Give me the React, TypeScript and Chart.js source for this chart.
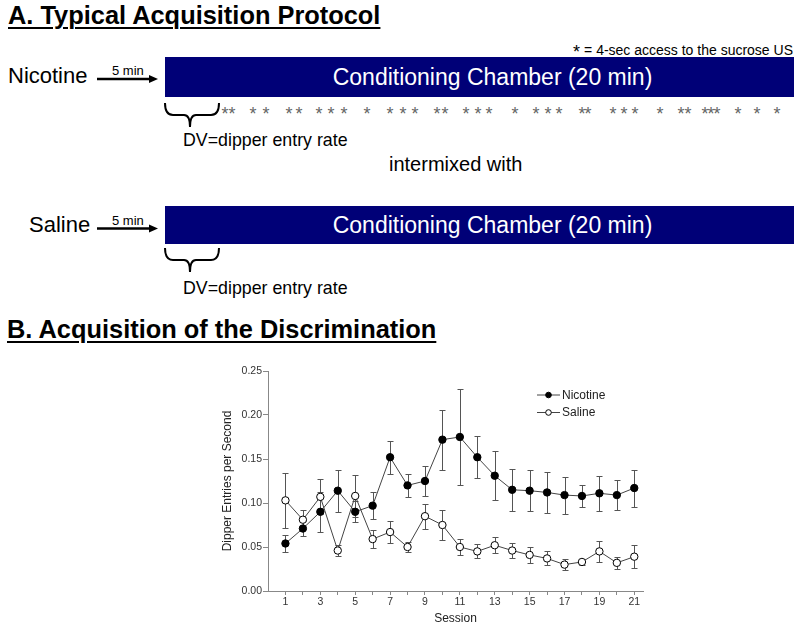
import React, { useEffect, useRef } from 'react';
import { Chart, registerables } from 'chart.js';

Chart.register(...registerables);

// ---------- data ----------
const sessions = [1, 2, 3, 4, 5, 6, 7, 8, 9, 10, 11, 12, 13, 14, 15, 16, 17, 18, 19, 20, 21];
const nicotineMean = [0.054, 0.071, 0.090, 0.114, 0.090, 0.097, 0.152, 0.120, 0.125, 0.172, 0.175, 0.152, 0.131, 0.115, 0.114, 0.112, 0.109, 0.108, 0.111, 0.109, 0.117];
const nicotineSem = [0.010, 0.009, 0.023, 0.024, 0.012, 0.015, 0.019, 0.013, 0.017, 0.034, 0.055, 0.024, 0.028, 0.024, 0.023, 0.023, 0.021, 0.013, 0.020, 0.017, 0.021];
const salineMean = [0.103, 0.081, 0.107, 0.046, 0.108, 0.059, 0.067, 0.050, 0.085, 0.075, 0.050, 0.045, 0.052, 0.046, 0.041, 0.037, 0.030, 0.033, 0.045, 0.032, 0.039];
const salineSem = [0.031, 0.011, 0.020, 0.006, 0.024, 0.010, 0.012, 0.006, 0.014, 0.017, 0.009, 0.008, 0.009, 0.008, 0.009, 0.008, 0.006, 0.003, 0.012, 0.007, 0.013];
const xTickLabels = [1, 3, 5, 7, 9, 11, 13, 15, 17, 19, 21];
const yTickValues = [0, 0.05, 0.1, 0.15, 0.2, 0.25];
const seriesNames = ['Nicotine', 'Saline'];
const yAxisTitle = 'Dipper Entries per Second';
const xAxisTitle = 'Session';

const FONT = "'Liberation Sans', Arial, Helvetica, sans-serif";
const semBySeries = [nicotineSem, salineSem];

// star (US delivery) marks on the nicotine timeline, x centres in px
const starXs = [225, 232, 253, 266, 289, 299, 319, 331, 344, 367, 390, 403, 415, 437, 445, 466, 478, 489, 515, 536, 548, 559, 582, 588, 613, 624, 635, 660, 681, 688, 705, 711, 717, 738, 757, 777];

const errorBarPlugin = {
  id: 'errorBars',
  beforeDatasetsDraw(chart: any) {
    const { ctx, scales } = chart;
    const x = scales.x;
    const y = scales.y;
    ctx.save();
    ctx.strokeStyle = '#555';
    ctx.lineWidth = 1;
    chart.data.datasets.forEach((ds: any, i: number) => {
      const sem = semBySeries[i];
      ds.data.forEach((pt: any, j: number) => {
        const px = Math.round(x.getPixelForValue(pt.x)) + 0.5;
        const hi = Math.round(y.getPixelForValue(pt.y + sem[j])) + 0.5;
        const lo = Math.round(y.getPixelForValue(pt.y - sem[j])) + 0.5;
        ctx.beginPath();
        ctx.moveTo(px, hi);
        ctx.lineTo(px, lo);
        ctx.moveTo(px - 3, hi);
        ctx.lineTo(px + 3, hi);
        ctx.moveTo(px - 3, lo);
        ctx.lineTo(px + 3, lo);
        ctx.stroke();
      });
    });
    ctx.restore();
  },
};

const decorPlugin = {
  id: 'decor',
  afterDraw(chart: any) {
    const { ctx, chartArea } = chart;
    ctx.save();
    // axis titles
    ctx.fillStyle = '#222';
    ctx.font = `12px ${FONT}`;
    ctx.textAlign = 'center';
    ctx.textBaseline = 'alphabetic';
    ctx.fillText(xAxisTitle, (chartArea.left + chartArea.right) / 2, chartArea.bottom + 31);
    ctx.save();
    ctx.translate(chartArea.left - 41, (chartArea.top + chartArea.bottom) / 2);
    ctx.rotate(-Math.PI / 2);
    ctx.fillText(yAxisTitle, 0, 4);
    ctx.restore();

    // legend
    const lx = chartArea.left + 269;
    const rows = [chartArea.top + 24, chartArea.top + 41.5];
    chart.data.datasets.forEach((ds: any, i: number) => {
      const ly = rows[i];
      ctx.strokeStyle = '#444';
      ctx.lineWidth = 1;
      ctx.beginPath();
      ctx.moveTo(lx, ly);
      ctx.lineTo(lx + 23, ly);
      ctx.stroke();
      ctx.beginPath();
      ctx.arc(lx + 11.5, ly, 2.8, 0, Math.PI * 2);
      ctx.fillStyle = ds.pointBackgroundColor;
      ctx.fill();
      ctx.strokeStyle = '#000';
      ctx.stroke();
      ctx.fillStyle = '#222';
      ctx.font = `12px ${FONT}`;
      ctx.textAlign = 'left';
      ctx.textBaseline = 'middle';
      ctx.fillText(seriesNames[i], lx + 25, ly + 0.5);
    });
    ctx.restore();
  },
};

function ChartPanel() {
  const ref = useRef<HTMLCanvasElement | null>(null);
  useEffect(() => {
    if (!ref.current) return;
    const mk = (vals: number[]) => sessions.map((s, i) => ({ x: s, y: vals[i] }));
    const chart = new Chart(ref.current, {
      type: 'line',
      data: {
        datasets: [
          {
            label: seriesNames[0],
            data: mk(nicotineMean),
            borderColor: '#444',
            borderWidth: 1,
            pointRadius: 3.7,
            pointBackgroundColor: '#000',
            pointBorderColor: '#000',
            pointBorderWidth: 1,
            tension: 0,
          },
          {
            label: seriesNames[1],
            data: mk(salineMean),
            borderColor: '#444',
            borderWidth: 1,
            pointRadius: 3.7,
            pointBackgroundColor: '#fff',
            pointBorderColor: '#000',
            pointBorderWidth: 1,
            tension: 0,
          },
        ],
      },
      options: {
        responsive: false,
        animation: false,
        events: [],
        layout: { padding: { left: 200, right: 157, top: 16, bottom: 0 } },
        plugins: { legend: { display: false }, tooltip: { enabled: false }, title: { display: false } },
        scales: {
          x: {
            type: 'linear',
            min: 0,
            max: 21.5,
            afterBuildTicks: (scale: any) => {
              scale.ticks = sessions.map((v) => ({ value: v }));
            },
            afterFit: (scale: any) => {
              scale.height = 38;
            },
            ticks: {
              autoSkip: false,
              maxRotation: 0,
              padding: 1,
              color: '#333',
              font: { family: FONT, size: 10.5 },
              callback: (v: any) => (xTickLabels.includes(Number(v)) ? String(v) : ''),
            },
            grid: { drawOnChartArea: false, drawTicks: true, tickLength: 4, color: '#888' },
            border: { color: '#888', width: 1 },
          },
          y: {
            type: 'linear',
            min: 0,
            max: 0.25,
            afterBuildTicks: (scale: any) => {
              scale.ticks = yTickValues.map((v) => ({ value: v }));
            },
            afterFit: (scale: any) => {
              scale.width = 68;
            },
            ticks: {
              padding: 1,
              color: '#333',
              font: { family: FONT, size: 10.5 },
              callback: (v: any) => Number(v).toFixed(2),
            },
            grid: { drawOnChartArea: false, drawTicks: true, tickLength: 5, color: '#888' },
            border: { color: '#888', width: 1 },
          },
        },
      },
      plugins: [errorBarPlugin, decorPlugin],
    } as any);
    return () => chart.destroy();
  }, []);
  return (
    <canvas
      ref={ref}
      width={800}
      height={274}
      style={{ position: 'absolute', left: 0, top: 355, width: 800, height: 274 }}
    />
  );
}

// place text by baseline (line-height 1)
function T(props: {
  x: number;
  base: number;
  size: number;
  text: string;
  bold?: boolean;
  color?: string;
  underline?: boolean;
  align?: 'left' | 'center' | 'right';
}) {
  const { x, base, size, text, bold, color, underline, align } = props;
  const top = base - 0.8465 * size;
  const style: React.CSSProperties = {
    position: 'absolute',
    top,
    fontFamily: FONT,
    fontSize: size,
    lineHeight: `${size}px`,
    fontWeight: bold ? 700 : 400,
    color: color || '#000',
    whiteSpace: 'pre',
    textDecoration: underline ? 'underline' : 'none',
    textDecorationThickness: underline ? 2 : undefined,
    textUnderlineOffset: underline ? 3 : undefined,
  };
  if (align === 'right') {
    style.right = 800 - x;
  } else if (align === 'center') {
    style.left = x;
    style.transform = 'translateX(-50%)';
  } else {
    style.left = x;
  }
  return <div style={style}>{text}</div>;
}

function Arrow({ y }: { y: number }) {
  return (
    <svg style={{ position: 'absolute', left: 0, top: 0 }} width={800} height={629}>
      <line x1={97} y1={y} x2={151} y2={y} stroke="#000" strokeWidth={2.5} />
      <polygon points={`${158},${y} ${149},${y - 4} ${149},${y + 4}`} fill="#000" />
    </svg>
  );
}

function Brace({ top }: { top: number }) {
  const l = 165;
  const r = 219;
  const tip = 190;
  const mid = top + 12;
  const bot = top + 24;
  const d = `M${l},${top} Q${l},${mid} ${l + 8},${mid} L${tip - 6},${mid} Q${tip},${mid} ${tip},${bot} Q${tip},${mid} ${tip + 6},${mid} L${r - 8},${mid} Q${r},${mid} ${r},${top}`;
  return (
    <svg style={{ position: 'absolute', left: 0, top: 0 }} width={800} height={629}>
      <path d={d} stroke="#000" strokeWidth={2} fill="none" />
    </svg>
  );
}

function Bar({ top, height }: { top: number; height: number }) {
  return (
    <div
      style={{
        position: 'absolute',
        left: 165,
        top,
        width: 629,
        height,
        background: '#000077',
        color: '#fff',
        fontFamily: FONT,
        fontSize: 23,
        display: 'flex',
        alignItems: 'center',
        justifyContent: 'center',
        paddingLeft: 26,
        boxSizing: 'border-box',
      }}
    >
      Conditioning Chamber (20 min)
    </div>
  );
}

export default function App() {
  return (
    <div style={{ position: 'absolute', left: 0, top: 0, width: 800, height: 629, background: '#fff', overflow: 'hidden' }}>
      <T x={8} base={25} size={25.4} bold underline text="A. Typical Acquisition Protocol" />
      <T x={793} base={55} size={14} align="right" text="= 4-sec access to the sucrose US" />
      <T x={573} base={58} size={18} text="*" />

      <T x={8} base={84} size={22} text="Nicotine" />
      <Arrow y={79} />
      <T x={112} base={75.5} size={13} text="5 min" />
      <Bar top={57} height={40} />
      {starXs.map((sx, i) => (
        <T key={i} x={sx} base={120.3} size={18} color="#666" align="center" text="*" />
      ))}
      <Brace top={103} />
      <T x={183} base={147} size={17.8} text="DV=dipper entry rate" />
      <T x={389} base={171} size={20} text="intermixed with" />

      <T x={29} base={233} size={22} text="Saline" />
      <Arrow y={228.5} />
      <T x={112} base={225.5} size={13} text="5 min" />
      <Bar top={206} height={38} />
      <Brace top={248} />
      <T x={183} base={295} size={17.8} text="DV=dipper entry rate" />

      <T x={7} base={338.5} size={25.4} bold underline text="B. Acquisition of the Discrimination" />

      <ChartPanel />
    </div>
  );
}
